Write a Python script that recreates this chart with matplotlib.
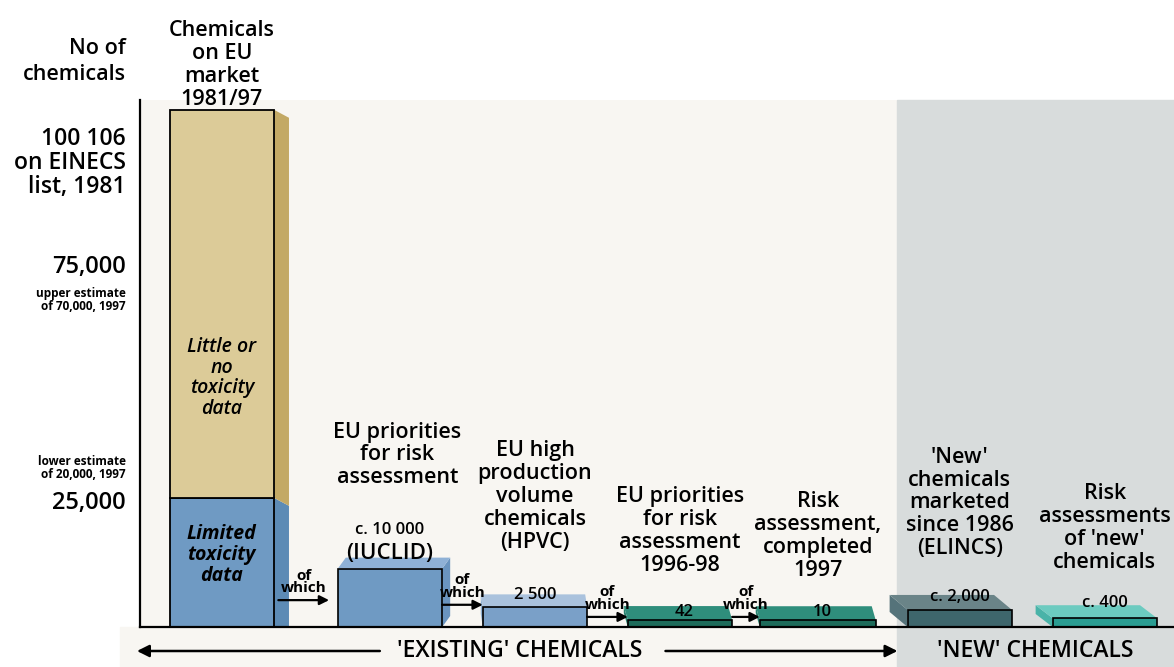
import matplotlib
matplotlib.use('Agg')
import matplotlib.pyplot as plt
from matplotlib.patches import Polygon, Rectangle
import numpy as np

plt.rcParams['font.family'] = ['Open Sans', 'DejaVu Sans']

# ---- data ----
categories = ['Chemicals\non EU\nmarket\n1981/97',
              'EU priorities\nfor risk\nassessment',
              'EU high\nproduction\nvolume\nchemicals\n(HPVC)',
              'EU priorities\nfor risk\nassessment\n1996-98',
              'Risk\nassessment,\ncompleted\n1997',
              "'New'\nchemicals\nmarketed\nsince 1986\n(ELINCS)",
              "Risk\nassessments\nof 'new'\nchemicals"]
counts = [100106, 10000, 2500, 42, 10, 2000, 400]
limited_tox = 25000          # part of the first bar with limited toxicity data
value_labels = ['', 'c. 10 000', '2 500', '42', '10', 'c. 2,000', 'c. 400']
slab_base = 1300             # small boxes get a base thickness so they stay visible

# ---- layout / style ----
xpos = np.array([-0.16, 1, 2, 3, 3.95, 4.93, 5.93])
widths = [0.72, 0.72, 0.72, 0.72, 0.8, 0.72, 0.72]
front_c = ['#6f9ac3', '#6f9ac3', '#7aa0c8', '#1d6b5a', '#1d6b5a', '#3e666c', '#2a9d92']
top_c = [None, '#8fb1d6', '#aac2dd', '#2f8e7c', '#2f8e7c', '#6a8488', '#6ccbc0']
side_c = ['#5d8bb5', '#6a94bf', '#8fb0d2', '#27806d', '#27806d', '#55737a', '#49b3a8']
depth = [(15, -8), (8, 11), (-2, 13), (-4, 14), (-4, 14), (-18, 15), (-17, 13)]

W, H = 1174, 667
fig = plt.figure(figsize=(W / 100, H / 100), dpi=100)
ax = fig.add_axes([140 / W, 40 / H, 1034 / W, 527 / H])
ax.set_xlim(-0.724, 6.407)
ax.set_ylim(0, 102000)
ax.set_facecolor('#f8f6f2')
ax.set_xticks([])
ax.set_yticks([])
for s in ['top', 'right']:
    ax.spines[s].set_visible(False)
for s in ['left', 'bottom']:
    ax.spines[s].set_linewidth(1.6)
    ax.spines[s].set_zorder(5)

PX_X = (6.407 + 0.724) / 1034
PX_Y = 102000 / 527

# background bands ('existing' light / 'new' grey)
fig.patches.append(Rectangle((120 / W, 0), (898 - 120) / W, 40 / H,
                             transform=fig.transFigure, color='#f8f6f2', zorder=-1))
split = 4.5
ax.axvspan(split, 6.407, ymin=-40 / 527, ymax=1, color='#d8dcdc', clip_on=False, zorder=0.5)


def faces(x, w, b, h, dx, dy, top, side):
    l, r = x - w / 2, x + w / 2
    ddx, ddy = dx * PX_X, dy * PX_Y
    e = r if dx > 0 else l
    ax.add_patch(Polygon([(e, b), (e, h), (e + ddx, h + ddy), (e + ddx, b + ddy)],
                         closed=True, fc=side, ec='none', zorder=2))
    if dy > 0 and top:
        ax.add_patch(Polygon([(l, h), (r, h), (r + ddx, h + ddy), (l + ddx, h + ddy)],
                             closed=True, fc=top, ec='none', zorder=2))


heights = np.array(counts) + slab_base

# first (stacked) bar
ax.bar(xpos[0], limited_tox, widths[0], color='#6f9ac3', edgecolor='black', lw=1.3, zorder=3)
ax.bar(xpos[0], counts[0] - limited_tox, widths[0], bottom=limited_tox,
       color='#dccb98', edgecolor='black', lw=1.3, zorder=3)
faces(xpos[0], widths[0], 0, limited_tox, *depth[0], None, '#5d8bb5')
faces(xpos[0], widths[0], limited_tox, counts[0], *depth[0], None, '#c3a965')

for i in range(1, len(counts)):
    ax.bar(xpos[i], heights[i], widths[i], color=front_c[i], edgecolor='black', lw=1.2, zorder=3)
    faces(xpos[i], widths[i], 0, heights[i], *depth[i], top_c[i], side_c[i])

# value labels on top of the boxes
val_y = [0, 18770, 6200, 2900, 2900, 5800, 4650]
for i in range(1, len(counts)):
    ax.text(xpos[i] + (0.03 if i in (3, 4) else 0), val_y[i], value_labels[i],
            ha='center', va='center', fontsize=12, fontweight='semibold', zorder=6)
ax.text(xpos[1], 14300, '(IUCLID)', ha='center', va='center', fontsize=16, fontweight='semibold')

# category labels
cat_y = [108800, 33300, 25200, 18600, 17600, 24000, 19150]
for i, lab in enumerate(categories):
    ax.text(xpos[i] + (0.05 if i == 1 else 0), cat_y[i], lab, ha='center', va='center',
            fontsize=15.5, fontweight='semibold', linespacing=1.12)

# labels inside the first bar
ax.text(xpos[0], 48200, 'Little or\nno\ntoxicity\ndata', ha='center', va='center',
        fontsize=14, style='italic', fontweight='semibold', linespacing=1.05, zorder=6)
ax.text(xpos[0], 13900, 'Limited\ntoxicity\ndata', ha='center', va='center',
        fontsize=14, style='italic', fontweight='bold', linespacing=1.05, zorder=6)

# "of which" arrows between the boxes
arrow_y = [5200, 4300, 1950, 1950]
for i, y in enumerate(arrow_y):
    x0 = xpos[i] + widths[i] / 2 + (0.03 if i == 0 else 0)
    x1 = xpos[i + 1] - widths[i + 1] / 2 - (0.06 if i == 0 else 0)
    ax.annotate('', xy=(x1, y), xytext=(x0, y),
                arrowprops=dict(arrowstyle='-|>', color='black', lw=1.6,
                                mutation_scale=14, shrinkA=0, shrinkB=0), zorder=6)
    ax.text((x0 + x1) / 2, y + 900, 'of\nwhich', ha='center', va='bottom',
            fontsize=11, fontweight='bold', linespacing=0.9, zorder=6)

# left-hand scale texts
yt = ax.get_yaxis_transform()
ax.text(-0.014, 109500, 'No of\nchemicals', transform=yt, ha='right', va='center',
        fontsize=15.5, fontweight='semibold', linespacing=1.3)
ax.text(-0.014, 89800, '100 106\non EINECS\nlist, 1981', transform=yt, ha='right',
        va='center', fontsize=16.5, fontweight='semibold', linespacing=1.0)
ax.text(-0.014, 69700, '75,000', transform=yt, ha='right', va='center',
        fontsize=17, fontweight='semibold')
ax.text(-0.014, 63300, 'upper estimate\nof 70,000, 1997', transform=yt, ha='right',
        va='center', fontsize=8.5, fontweight='bold', linespacing=1.05)
ax.text(-0.014, 30800, 'lower estimate\nof 20,000, 1997', transform=yt, ha='right',
        va='center', fontsize=8.5, fontweight='bold', linespacing=1.05)
ax.text(-0.014, 24000, '25,000', transform=yt, ha='right', va='center',
        fontsize=17, fontweight='semibold')

# bottom band: existing vs new chemicals
xt = ax.get_xaxis_transform()
by = -24 / 527
ax.text(1.897, by, "'EXISTING' CHEMICALS", transform=xt, ha='center', va='center',
        fontsize=16.5, fontweight='semibold')
ax.text(5.45, by, "'NEW' CHEMICALS", transform=xt, ha='center', va='center',
        fontsize=16.5, fontweight='semibold')
ax.annotate('', xy=(-0.745, by), xytext=(0.93, by), xycoords=xt, textcoords=xt,
            arrowprops=dict(arrowstyle='-|>', color='black', lw=1.8, mutation_scale=18,
                            shrinkA=0, shrinkB=0))
ax.annotate('', xy=(split, by), xytext=(2.9, by), xycoords=xt, textcoords=xt,
            arrowprops=dict(arrowstyle='-|>', color='black', lw=1.8, mutation_scale=18,
                            shrinkA=0, shrinkB=0))

fig.savefig('out.png', dpi=100)
